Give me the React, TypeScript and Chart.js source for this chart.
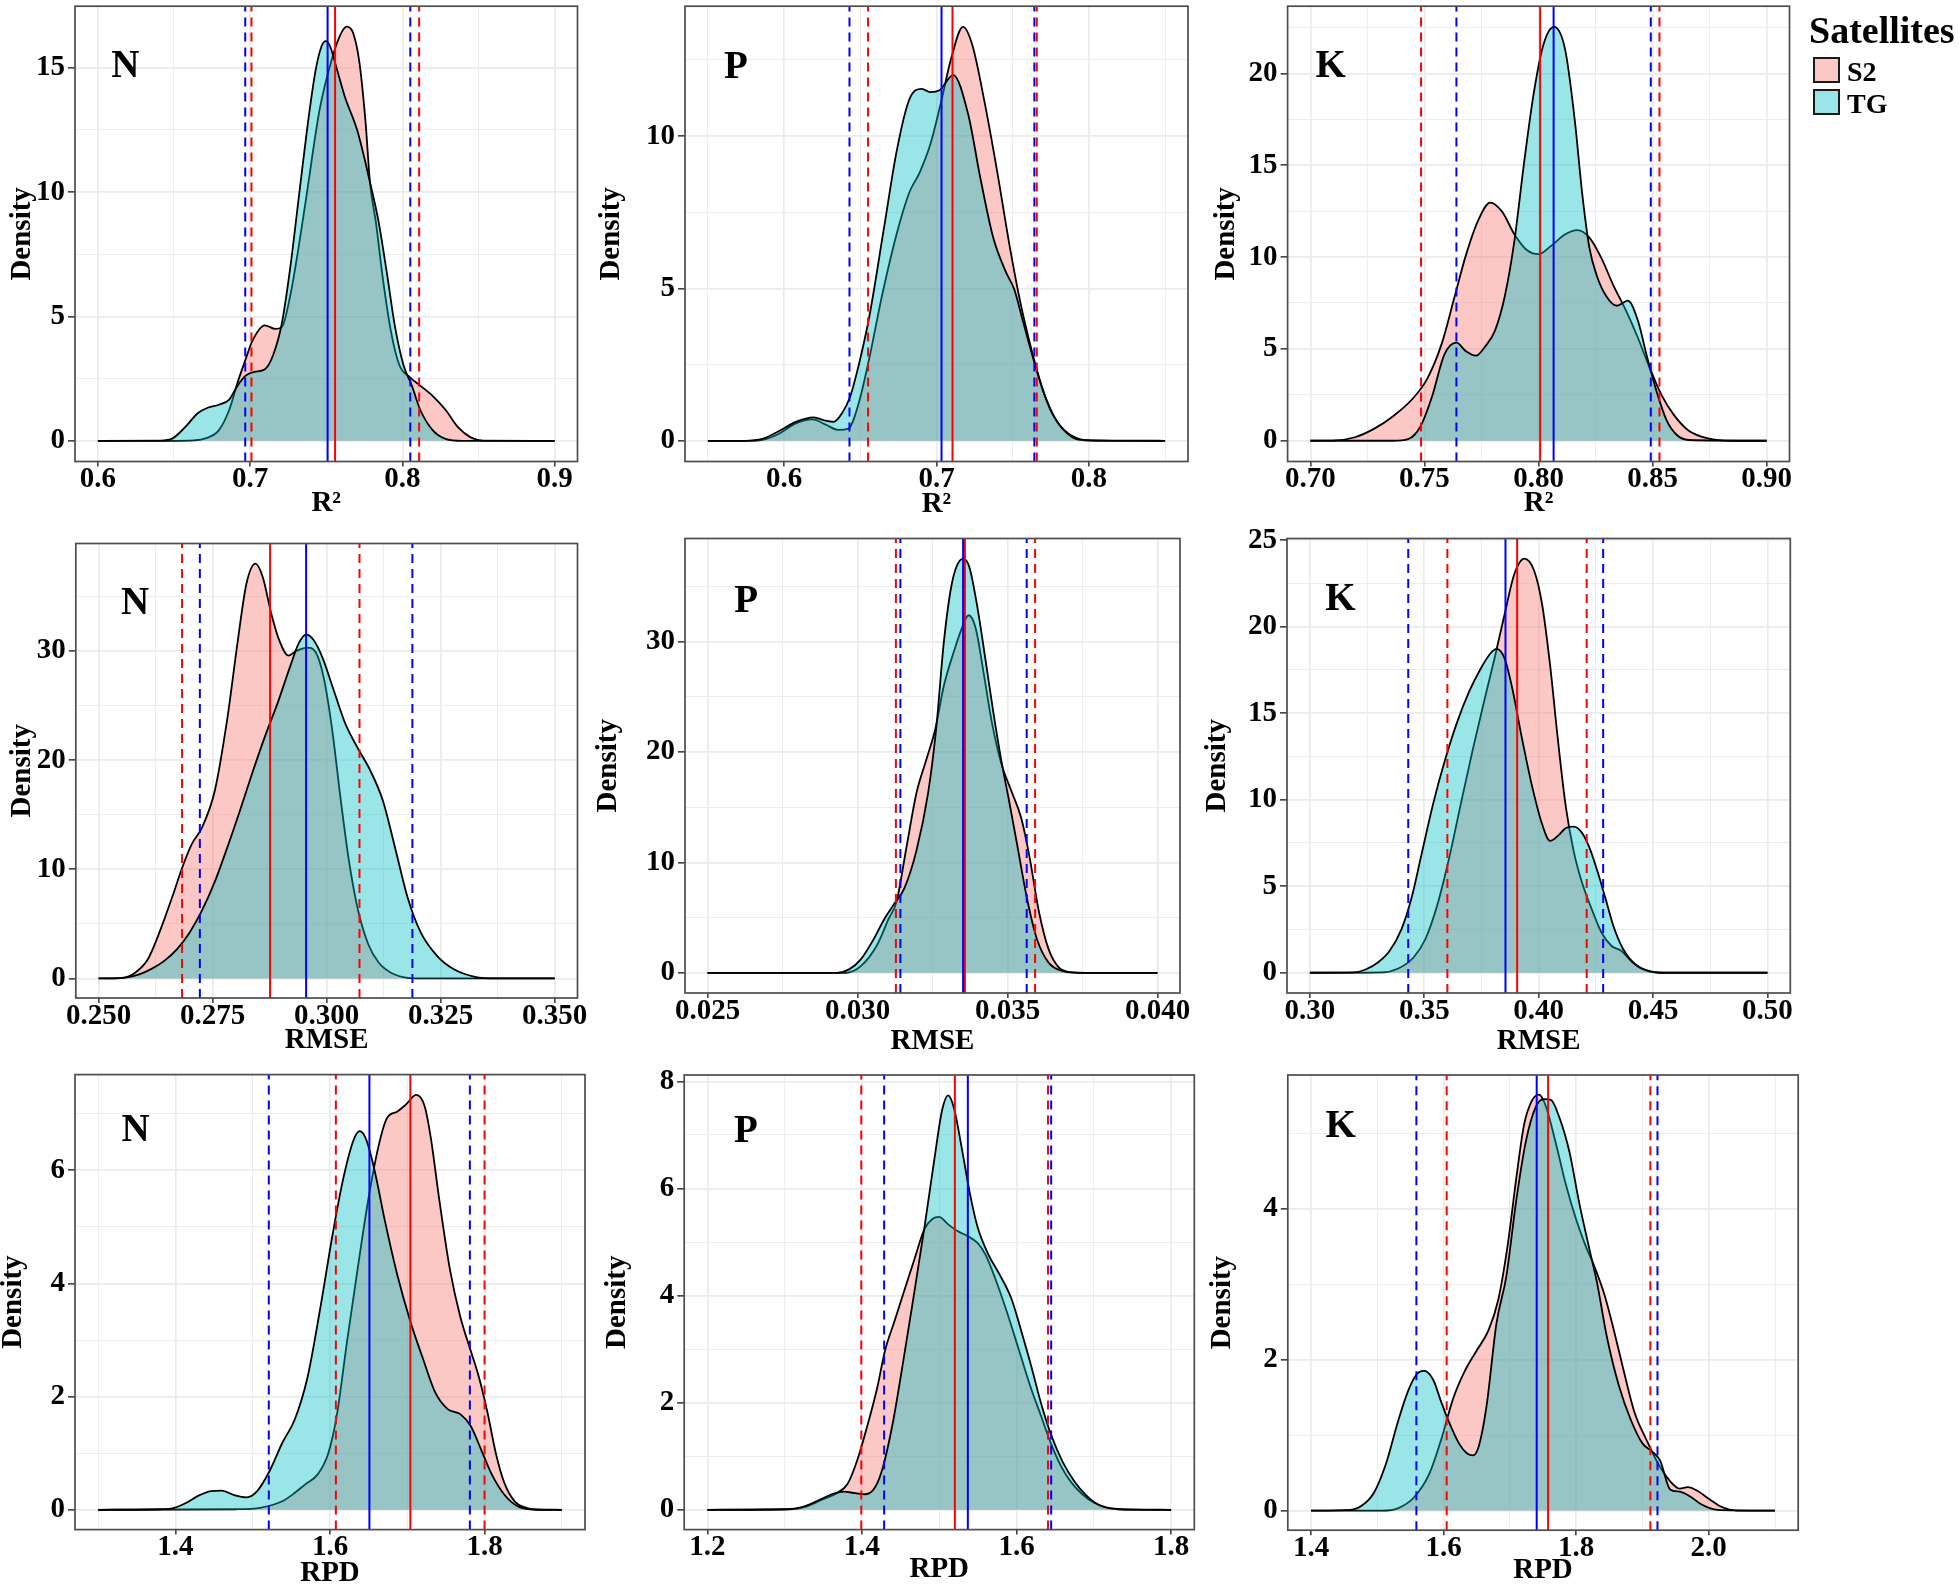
import React, { useEffect, useRef } from 'react';
import { Chart, registerables } from 'chart.js';
Chart.register(...registerables);

type Pt = [number, number];

// ---------------- N / R2 ----------------
const nR2_S2: Pt[] = [[0.6,0],[0.6463,0],[0.6629,0.02],[0.6711,0.11],[0.6794,0.42],[0.6863,1.25],[0.6918,2.35],[0.6973,3.32],[0.7015,4.02],[0.7097,4.64],[0.7166,4.5],[0.7208,4.57],[0.7263,5.82],[0.7318,7.76],[0.7373,9.97],[0.7456,13.3],[0.7538,15.37],[0.7594,16.34],[0.7635,16.65],[0.7676,16.4],[0.7718,15.2],[0.7759,12.74],[0.7787,10.4],[0.7828,8.7],[0.7869,6.65],[0.7924,4.43],[0.798,3.05],[0.8048,2.56],[0.8117,2.22],[0.82,1.8],[0.8283,1.25],[0.8365,0.55],[0.8448,0.14],[0.8531,0.01],[0.9,0]];
const nR2_TG: Pt[] = [[0.6,0],[0.6408,0.01],[0.6491,0.1],[0.6573,0.55],[0.6656,1.11],[0.6725,1.34],[0.6794,1.45],[0.6863,1.66],[0.6918,2.22],[0.6973,2.63],[0.7028,2.77],[0.7097,2.88],[0.7152,3.46],[0.7208,4.71],[0.7263,6.93],[0.7318,9.7],[0.7373,12.47],[0.7428,14.82],[0.7469,15.86],[0.7497,16.07],[0.7525,15.86],[0.7566,15.03],[0.7621,13.85],[0.7704,12.47],[0.7787,10.4],[0.7842,8.86],[0.7897,6.79],[0.7952,4.57],[0.8007,3.05],[0.8062,2.22],[0.8117,1.25],[0.82,0.42],[0.8283,0.08],[0.8393,0],[0.9,0]];
const nR2_linesS2 = [0.7009, 0.7558, 0.811];
const nR2_linesTG = [0.6968, 0.7509, 0.8052];

// ---------------- P / R2 ----------------
const pR2_S2: Pt[] = [[0.55,0],[0.5747,0],[0.5857,0.03],[0.5967,0.23],[0.6077,0.57],[0.6187,0.7],[0.627,0.54],[0.6353,0.36],[0.6422,0.4],[0.649,1.24],[0.6559,2.71],[0.6642,4.75],[0.6738,6.78],[0.6821,8.14],[0.689,8.81],[0.6959,9.72],[0.7028,11.07],[0.7096,12.54],[0.7174,13.58],[0.7234,13.0],[0.7317,11.07],[0.7399,8.81],[0.7482,6.33],[0.7551,4.52],[0.762,3.05],[0.7689,1.81],[0.7758,0.9],[0.784,0.34],[0.7923,0.08],[0.8033,0],[0.85,0]];
const pR2_TG: Pt[] = [[0.55,0],[0.5747,0],[0.5857,0.06],[0.5967,0.32],[0.6077,0.62],[0.6193,0.77],[0.627,0.66],[0.6325,0.62],[0.638,0.9],[0.6435,1.47],[0.649,2.49],[0.6559,4.07],[0.6656,7.0],[0.6738,9.49],[0.6821,11.19],[0.6904,11.55],[0.6959,11.44],[0.7019,11.5],[0.711,12.0],[0.7207,10.73],[0.7289,8.59],[0.7372,6.67],[0.7455,5.54],[0.751,4.97],[0.7565,3.96],[0.7634,2.71],[0.7703,1.58],[0.7785,0.68],[0.7868,0.2],[0.7951,0.03],[0.85,0]];
const pR2_linesS2 = [0.6551, 0.7105, 0.7658];
const pR2_linesTG = [0.6429, 0.7033, 0.7642];

// ---------------- K / R2 ----------------
const kR2_S2: Pt[] = [[0.7,0],[0.711,0.02],[0.7195,0.19],[0.728,0.66],[0.7364,1.35],[0.7449,2.3],[0.7513,3.4],[0.7576,5.3],[0.7629,7.7],[0.7682,10.12],[0.7735,11.99],[0.7788,12.97],[0.7841,12.46],[0.7894,11.24],[0.7947,10.4],[0.8,10.16],[0.8053,10.59],[0.8117,11.24],[0.817,11.47],[0.8223,11.06],[0.8276,9.93],[0.8329,8.43],[0.8382,7.12],[0.8435,5.62],[0.8488,3.94],[0.8541,2.44],[0.8593,1.41],[0.8657,0.56],[0.8742,0.13],[0.8848,0],[0.9,0]];
const kR2_TG: Pt[] = [[0.7,0],[0.7364,0],[0.7428,0.09],[0.7481,0.75],[0.7534,2.44],[0.7587,4.69],[0.764,5.34],[0.7682,4.87],[0.7725,4.63],[0.7767,5.15],[0.7809,6.0],[0.7852,7.87],[0.7894,10.87],[0.7937,15.18],[0.7979,18.93],[0.8021,21.55],[0.8068,22.53],[0.8117,21.27],[0.8159,17.43],[0.8191,13.5],[0.8223,10.5],[0.8255,9.0],[0.8297,7.87],[0.8343,7.35],[0.8392,7.63],[0.8435,6.56],[0.8477,4.5],[0.8519,2.62],[0.8561,1.12],[0.8604,0.34],[0.8657,0.04],[0.9,0]];
const kR2_linesS2 = [0.7485, 0.8007, 0.853];
const kR2_linesTG = [0.764, 0.8066, 0.8492];

// ---------------- N / RMSE ----------------
const nRMSE_S2: Pt[] = [[0.25,0],[0.2552,0.06],[0.258,0.53],[0.2608,1.76],[0.2635,4.4],[0.2663,7.65],[0.2683,10.12],[0.2704,12.29],[0.2727,13.84],[0.2755,17.24],[0.2782,23.75],[0.2805,30.87],[0.2824,36.13],[0.2844,37.99],[0.286,36.75],[0.2879,33.34],[0.2897,30.87],[0.2916,29.57],[0.2934,30.0],[0.2957,30.31],[0.2976,29.88],[0.2994,27.46],[0.3012,22.82],[0.3031,16.32],[0.3049,10.74],[0.3068,6.41],[0.3091,3.16],[0.3114,1.46],[0.3141,0.53],[0.3178,0.06],[0.3215,0],[0.35,0]];
const nRMSE_TG: Pt[] = [[0.25,0],[0.2534,0],[0.2562,0.09],[0.2589,0.37],[0.2617,0.9],[0.2644,1.61],[0.2672,2.69],[0.27,4.24],[0.2727,6.25],[0.2755,8.89],[0.2782,11.98],[0.281,15.39],[0.2838,18.95],[0.2865,22.2],[0.2893,25.29],[0.2921,28.7],[0.2939,30.71],[0.2955,31.49],[0.2971,31.02],[0.299,29.47],[0.3012,26.84],[0.304,23.44],[0.3068,21.11],[0.3095,19.1],[0.3123,16.32],[0.315,11.98],[0.3178,7.34],[0.3206,4.24],[0.3242,2.07],[0.3279,0.84],[0.3325,0.15],[0.3371,0],[0.35,0]];
const nRMSE_linesS2 = [0.2683, 0.2876, 0.3072];
const nRMSE_linesTG = [0.2722, 0.2955, 0.3188];

// ---------------- P / RMSE ----------------
const pRMSE_S2: Pt[] = [[0.025,0],[0.02959,0],[0.03011,0.61],[0.03064,2.45],[0.03104,4.9],[0.0313,6.43],[0.03163,11.33],[0.03196,16.22],[0.03229,19.28],[0.03259,22.04],[0.03288,26.02],[0.03321,29.08],[0.03348,31.22],[0.0337,32.39],[0.03394,31.22],[0.0342,27.24],[0.03446,22.96],[0.03479,18.98],[0.03512,16.53],[0.03545,14.08],[0.03572,10.71],[0.03605,5.51],[0.03637,2.14],[0.0367,0.52],[0.0371,0.06],[0.03763,0],[0.04,0]];
const pRMSE_TG: Pt[] = [[0.025,0],[0.02932,0],[0.02972,0.31],[0.03011,1.22],[0.03051,2.91],[0.0309,4.9],[0.03123,6.27],[0.03156,7.65],[0.03196,11.02],[0.03235,16.22],[0.03262,22.04],[0.03288,30.0],[0.03314,35.2],[0.03341,37.35],[0.03354,37.5],[0.03373,36.73],[0.034,33.06],[0.03426,28.47],[0.03453,23.57],[0.03479,19.28],[0.03505,15.61],[0.03532,11.63],[0.03565,6.73],[0.03598,3.06],[0.03637,0.92],[0.03684,0.15],[0.03736,0],[0.04,0]];
const pRMSE_linesS2 = [0.03128, 0.03358, 0.03592];
const pRMSE_linesTG = [0.03143, 0.03352, 0.03564];

// ---------------- K / RMSE ----------------
const kRMSE_S2: Pt[] = [[0.3,0],[0.3315,0.02],[0.3384,0.23],[0.3453,0.88],[0.3505,1.95],[0.3557,3.91],[0.3609,6.64],[0.366,9.77],[0.3712,12.89],[0.3764,15.82],[0.3807,18.16],[0.3851,20.7],[0.3894,23.05],[0.3937,23.93],[0.398,23.24],[0.4015,21.29],[0.405,17.77],[0.4084,13.48],[0.4119,9.57],[0.4153,7.03],[0.4188,5.27],[0.4231,3.71],[0.4274,2.34],[0.4318,1.56],[0.4361,1.27],[0.4404,0.68],[0.4456,0.2],[0.4525,0],[0.5,0]];
const kRMSE_TG: Pt[] = [[0.3,0],[0.3194,0.02],[0.3246,0.2],[0.3297,0.59],[0.3349,1.27],[0.3401,2.54],[0.3444,4.3],[0.3488,6.84],[0.3539,9.77],[0.3591,12.3],[0.3643,14.45],[0.3695,16.21],[0.3747,17.58],[0.379,18.46],[0.3816,18.71],[0.3851,18.16],[0.3885,16.41],[0.3928,13.48],[0.3972,10.74],[0.4015,8.59],[0.405,7.62],[0.4084,7.91],[0.4119,8.36],[0.4153,8.44],[0.4188,8.11],[0.4222,7.23],[0.4257,5.86],[0.4292,4.3],[0.4326,2.73],[0.4369,1.37],[0.4421,0.49],[0.4473,0.14],[0.4542,0],[0.5,0]];
const kRMSE_linesS2 = [0.3601, 0.3906, 0.421];
const kRMSE_linesTG = [0.343, 0.3855, 0.4282];

// ---------------- N / RPD ----------------
const nRPD_S2: Pt[] = [[1.3,0],[1.4786,0.01],[1.5111,0.04],[1.5382,0.15],[1.5545,0.3],[1.568,0.45],[1.5843,0.63],[1.5978,1.0],[1.6087,1.66],[1.6222,2.99],[1.6358,4.26],[1.6494,5.47],[1.6629,6.43],[1.6737,6.92],[1.6873,7.04],[1.6981,7.16],[1.7117,7.33],[1.7225,7.13],[1.7306,6.56],[1.7415,5.47],[1.755,4.26],[1.7686,3.41],[1.7821,2.81],[1.793,2.33],[1.8038,1.72],[1.8146,1.0],[1.8255,0.48],[1.839,0.15],[1.8553,0.03],[1.8742,0],[1.9,0]];
const nRPD_TG: Pt[] = [[1.3,0],[1.381,0.01],[1.3973,0.03],[1.4136,0.12],[1.4298,0.25],[1.4461,0.33],[1.4596,0.34],[1.4759,0.26],[1.4921,0.22],[1.5057,0.33],[1.522,0.69],[1.5382,1.18],[1.5545,1.6],[1.5707,2.33],[1.587,3.53],[1.6033,4.86],[1.6168,5.83],[1.6304,6.53],[1.6385,6.69],[1.6466,6.55],[1.6575,6.01],[1.671,5.11],[1.6873,4.14],[1.7035,3.35],[1.7198,2.69],[1.736,2.08],[1.7523,1.78],[1.7686,1.69],[1.7821,1.48],[1.7957,1.06],[1.8092,0.63],[1.8255,0.27],[1.8417,0.07],[1.858,0.01],[1.9,0]];
const nRPD_linesS2 = [1.6076, 1.704, 1.8];
const nRPD_linesTG = [1.5208, 1.651, 1.781];

// ---------------- P / RPD ----------------
const pRPD_S2: Pt[] = [[1.2,0],[1.3072,0.01],[1.3277,0.06],[1.3481,0.19],[1.3685,0.32],[1.3813,0.48],[1.394,0.93],[1.4068,1.56],[1.4196,2.27],[1.4298,2.97],[1.4425,3.54],[1.4553,4.12],[1.4681,4.69],[1.4808,5.24],[1.491,5.43],[1.4997,5.47],[1.5115,5.33],[1.5242,5.2],[1.537,5.11],[1.5498,4.98],[1.56,4.76],[1.5727,4.31],[1.5881,3.67],[1.6034,2.97],[1.6187,2.27],[1.6315,1.76],[1.6442,1.25],[1.657,0.83],[1.6698,0.53],[1.6851,0.29],[1.7004,0.13],[1.7208,0.03],[1.7412,0],[1.8,0]];
const pRPD_TG: Pt[] = [[1.2,0],[1.3021,0.01],[1.3225,0.05],[1.343,0.17],[1.3608,0.29],[1.3762,0.34],[1.3915,0.31],[1.4042,0.29],[1.417,0.42],[1.4272,0.8],[1.44,1.63],[1.4527,2.71],[1.4655,3.86],[1.4808,5.27],[1.4936,6.54],[1.5038,7.47],[1.5115,7.74],[1.5191,7.5],[1.5293,6.74],[1.5396,5.91],[1.5498,5.27],[1.5625,4.8],[1.5778,4.4],[1.5932,3.95],[1.6059,3.35],[1.6187,2.7],[1.6315,2.0],[1.6442,1.42],[1.6595,0.9],[1.6749,0.53],[1.6902,0.27],[1.7055,0.1],[1.7259,0.02],[1.8,0]];
const pRPD_linesS2 = [1.3991, 1.5202, 1.6407];
const pRPD_linesTG = [1.4287, 1.537, 1.6448];

// ---------------- K / RPD ----------------
const kRPD_S2: Pt[] = [[1.4,0],[1.5071,0],[1.5309,0.03],[1.5548,0.17],[1.5786,0.49],[1.5964,0.94],[1.6143,1.48],[1.6321,1.85],[1.65,2.12],[1.6679,2.39],[1.6827,2.8],[1.6976,3.57],[1.7095,4.39],[1.7214,5.11],[1.7333,5.43],[1.744,5.51],[1.7542,5.36],[1.769,4.88],[1.7839,4.34],[1.7988,3.89],[1.8137,3.52],[1.8286,3.21],[1.8434,2.84],[1.8583,2.34],[1.8732,1.8],[1.8881,1.3],[1.9059,0.94],[1.9238,0.62],[1.9417,0.39],[1.9565,0.29],[1.9684,0.31],[1.9833,0.26],[2.0012,0.15],[2.019,0.05],[2.0429,0],[2.1,0]];
const kRPD_TG: Pt[] = [[1.4,0],[1.4595,0.01],[1.4774,0.07],[1.4952,0.24],[1.5131,0.62],[1.5309,1.17],[1.5458,1.57],[1.5589,1.8],[1.5708,1.85],[1.5845,1.73],[1.5964,1.44],[1.6083,1.17],[1.6232,0.89],[1.6351,0.76],[1.644,0.73],[1.653,0.85],[1.6649,1.39],[1.6798,2.48],[1.6946,3.1],[1.7095,4.1],[1.7244,4.9],[1.7393,5.35],[1.7512,5.45],[1.7619,5.44],[1.775,5.2],[1.7899,4.75],[1.8048,4.07],[1.8196,3.48],[1.8315,3.02],[1.8464,2.3],[1.8643,1.66],[1.8821,1.21],[1.9,0.89],[1.9149,0.78],[1.9268,0.66],[1.9417,0.28],[1.9565,0.25],[1.9714,0.19],[1.9893,0.08],[2.0131,0.01],[2.1,0]];
const kRPD_linesS2 = [1.6047, 1.7577, 1.912];
const kRPD_linesTG = [1.559, 1.7405, 1.9227];

// ---------------- tick values & labels ----------------
const r2N_xTicks = [0.6, 0.7, 0.8, 0.9];
const r2N_xLabels = ['0.6', '0.7', '0.8', '0.9'];
const r2P_xTicks = [0.6, 0.7, 0.8];
const r2P_xLabels = ['0.6', '0.7', '0.8'];
const r2K_xTicks = [0.7, 0.75, 0.8, 0.85, 0.9];
const r2K_xLabels = ['0.70', '0.75', '0.80', '0.85', '0.90'];
const rmseN_xTicks = [0.25, 0.275, 0.3, 0.325, 0.35];
const rmseN_xLabels = ['0.250', '0.275', '0.300', '0.325', '0.350'];
const rmseP_xTicks = [0.025, 0.03, 0.035, 0.04];
const rmseP_xLabels = ['0.025', '0.030', '0.035', '0.040'];
const rmseK_xTicks = [0.3, 0.35, 0.4, 0.45, 0.5];
const rmseK_xLabels = ['0.30', '0.35', '0.40', '0.45', '0.50'];
const rpdN_xTicks = [1.4, 1.6, 1.8];
const rpdN_xLabels = ['1.4', '1.6', '1.8'];
const rpdP_xTicks = [1.2, 1.4, 1.6, 1.8];
const rpdP_xLabels = ['1.2', '1.4', '1.6', '1.8'];
const rpdK_xTicks = [1.4, 1.6, 1.8, 2.0];
const rpdK_xLabels = ['1.4', '1.6', '1.8', '2.0'];

const yTicks_0_15 = [0, 5, 10, 15];
const yTicks_0_10 = [0, 5, 10];
const yTicks_0_20 = [0, 5, 10, 15, 20];
const yTicks_0_30 = [0, 10, 20, 30];
const yTicks_0_25 = [0, 5, 10, 15, 20, 25];
const yTicks_0_6 = [0, 2, 4, 6];
const yTicks_0_8 = [0, 2, 4, 6, 8];
const yTicks_0_4 = [0, 2, 4];

const legendTitle = 'Satellites';
const seriesNames = ['S2', 'TG'];

// ---------------- styling ----------------
const FONT = '"Liberation Serif", "Times New Roman", Times, serif';
const S2_FILL = 'rgba(248,118,109,0.4)';
const TG_FILL = 'rgba(0,191,196,0.4)';
const S2_KEY = '#FCC8C5';
const TG_KEY = '#99E5E7';

interface PanelCfg {
  letter: string; lx: number; ly: number;
  s2: Pt[]; tg: Pt[]; lS2: number[]; lTG: number[];
  xMin: number; xMax: number; yMin: number; yMax: number;
  xTicks: number[]; xLabels: string[]; yTicks: number[];
  xTitle: string;
  L: number; R: number; T: number; B: number; wy: number; hx: number;
}

const panels: PanelCfg[] = [
  { letter: 'N', lx: 0.618, ly: 15.13, s2: nR2_S2, tg: nR2_TG, lS2: nR2_linesS2, lTG: nR2_linesTG,
    xMin: 0.585, xMax: 0.915, yMin: -0.83, yMax: 17.47, xTicks: r2N_xTicks, xLabels: r2N_xLabels, yTicks: yTicks_0_15, xTitle: 'R²',
    L: 75, R: 577.5, T: 6.2, B: 461.5, wy: 70, hx: 59 },
  { letter: 'P', lx: 0.5684, ly: 12.34, s2: pR2_S2, tg: pR2_TG, lS2: pR2_linesS2, lTG: pR2_linesTG,
    xMin: 0.535, xMax: 0.865, yMin: -0.68, yMax: 14.26, xTicks: r2P_xTicks, xLabels: r2P_xLabels, yTicks: yTicks_0_10, xTitle: 'R²',
    L: 685, R: 1188, T: 6.2, B: 461.5, wy: 90.5, hx: 60.5 },
  { letter: 'K', lx: 0.7089, ly: 20.5, s2: kR2_S2, tg: kR2_TG, lS2: kR2_linesS2, lTG: kR2_linesTG,
    xMin: 0.69, xMax: 0.91, yMin: -1.13, yMax: 23.66, xTicks: r2K_xTicks, xLabels: r2K_xLabels, yTicks: yTicks_0_20, xTitle: 'R²',
    L: 1287.6, R: 1789.5, T: 6.2, B: 461.5, wy: 78.6, hx: 59 },
  { letter: 'N', lx: 0.258, ly: 34.57, s2: nRMSE_S2, tg: nRMSE_TG, lS2: nRMSE_linesS2, lTG: nRMSE_linesTG,
    xMin: 0.245, xMax: 0.355, yMin: -1.79, yMax: 39.84, xTicks: rmseN_xTicks, xLabels: rmseN_xLabels, yTicks: yTicks_0_30, xTitle: 'RMSE',
    L: 75.8, R: 577.5, T: 543.5, B: 998, wy: 70.8, hx: 59.5 },
  { letter: 'P', lx: 0.02629, ly: 33.86, s2: pRMSE_S2, tg: pRMSE_TG, lS2: pRMSE_linesS2, lTG: pRMSE_linesTG,
    xMin: 0.02425, xMax: 0.04075, yMin: -1.83, yMax: 39.34, xTicks: rmseP_xTicks, xLabels: rmseP_xLabels, yTicks: yTicks_0_30, xTitle: 'RMSE',
    L: 685, R: 1180, T: 538.5, B: 993, wy: 94, hx: 65.5 },
  { letter: 'K', lx: 0.3133, ly: 21.73, s2: kRMSE_S2, tg: kRMSE_TG, lS2: kRMSE_linesS2, lTG: kRMSE_linesTG,
    xMin: 0.29, xMax: 0.51, yMin: -1.17, yMax: 25.09, xTicks: rmseK_xTicks, xLabels: rmseK_xLabels, yTicks: yTicks_0_25, xTitle: 'RMSE',
    L: 1287, R: 1790.3, T: 538.5, B: 993, wy: 87, hx: 65.5 },
  { letter: 'N', lx: 1.3484, ly: 6.75, s2: nRPD_S2, tg: nRPD_TG, lS2: nRPD_linesS2, lTG: nRPD_linesTG,
    xMin: 1.27, xMax: 1.93, yMin: -0.35, yMax: 7.69, xTicks: rpdN_xTicks, xLabels: rpdN_xLabels, yTicks: yTicks_0_6, xTitle: 'RPD',
    L: 75, R: 585, T: 1074.6, B: 1529.6, wy: 78.3, hx: 60.9 },
  { letter: 'P', lx: 1.2497, ly: 7.12, s2: pRPD_S2, tg: pRPD_TG, lS2: pRPD_linesS2, lTG: pRPD_linesTG,
    xMin: 1.17, xMax: 1.83, yMin: -0.37, yMax: 8.12, xTicks: rpdP_xTicks, xLabels: rpdP_xLabels, yTicks: yTicks_0_8, xTitle: 'RPD',
    L: 684.2, R: 1194.3, T: 1075, B: 1529.6, wy: 84.2, hx: 57.4 },
  { letter: 'K', lx: 1.4447, ly: 5.12, s2: kRPD_S2, tg: kRPD_TG, lS2: kRPD_linesS2, lTG: kRPD_linesTG,
    xMin: 1.365, xMax: 2.135, yMin: -0.26, yMax: 5.77, xTicks: rpdK_xTicks, xLabels: rpdK_xLabels, yTicks: yTicks_0_4, xTitle: 'RPD',
    L: 1287.8, R: 1798.2, T: 1075, B: 1530.2, wy: 82.8, hx: 57.3 },
];

function withMinor(major: number[], lo: number, hi: number): number[] {
  const step = major[1] - major[0];
  const out: number[] = [];
  out.push(major[0] - step / 2);
  major.forEach((m) => { out.push(m); out.push(m + step / 2); });
  return out.filter((v) => v >= lo - 1e-12 && v <= hi + 1e-12).sort((a, b) => a - b);
}

function isMajor(list: number[], v: number) {
  return list.some((m) => Math.abs(m - v) < 1e-9);
}

function Panel({ cfg }: { cfg: PanelCfg }) {
  const ref = useRef<HTMLCanvasElement>(null);
  const PAD_T = 22;
  const PAD_R = 32;
  const cLeft = Math.floor(cfg.L - cfg.wy);
  const cTop = Math.floor(cfg.T - PAD_T);
  const wy = cfg.L - cLeft;
  const padTop = cfg.T - cTop;
  const plotW = cfg.R - cfg.L;
  const plotH = cfg.B - cfg.T;
  const cW = Math.ceil(wy + plotW + PAD_R);
  const padRight = cW - wy - plotW;
  const cH = Math.ceil(padTop + plotH + cfg.hx);
  const hx = cH - padTop - plotH;

  useEffect(() => {
    const canvas = ref.current;
    if (!canvas) return;
    const xT = withMinor(cfg.xTicks, cfg.xMin, cfg.xMax);
    const yT = withMinor(cfg.yTicks, cfg.yMin, cfg.yMax);

    const vline = (v: number, color: string, dashed: boolean, order: number) => ({
      type: 'line' as const,
      data: [{ x: v, y: cfg.yMin }, { x: v, y: cfg.yMax }],
      borderColor: color,
      borderWidth: 2,
      borderDash: dashed ? [9, 6] : [],
      pointRadius: 0,
      fill: false,
      tension: 0,
      order,
    });

    const datasets: any[] = [
      { type: 'line', label: seriesNames[0], data: cfg.s2.map(([x, y]) => ({ x, y })), borderColor: '#000', borderWidth: 1.8,
        backgroundColor: S2_FILL, fill: 'origin', pointRadius: 0, cubicInterpolationMode: 'monotone', order: 3 },
      { type: 'line', label: seriesNames[1], data: cfg.tg.map(([x, y]) => ({ x, y })), borderColor: '#000', borderWidth: 1.8,
        backgroundColor: TG_FILL, fill: 'origin', pointRadius: 0, cubicInterpolationMode: 'monotone', order: 2 },
      ...cfg.lS2.map((v, i) => vline(v, '#FF0000', i !== 1, 1)),
      ...cfg.lTG.map((v, i) => vline(v, '#0000FF', i !== 1, 0)),
    ];

    const decor = {
      id: 'decor',
      afterDatasetsDraw(chart: any) {
        const { ctx, scales } = chart;
        ctx.save();
        ctx.font = `bold 39px ${FONT}`;
        ctx.fillStyle = '#000';
        ctx.textAlign = 'center';
        ctx.textBaseline = 'alphabetic';
        ctx.fillText(cfg.letter, scales.x.getPixelForValue(cfg.lx), scales.y.getPixelForValue(cfg.ly) + 13);
        ctx.restore();
      },
      afterDraw(chart: any) {
        const { ctx, chartArea: a } = chart;
        ctx.save();
        ctx.strokeStyle = '#4d4d4d';
        ctx.lineWidth = 1.7;
        ctx.strokeRect(a.left, a.top, a.right - a.left, a.bottom - a.top);
        ctx.restore();
      },
    };

    const tickFont = { family: FONT, size: 29, weight: 'bold' as const, lineHeight: 0.9 };
    const titleFont = { family: FONT, size: 29, weight: 'bold' as const };

    const chart = new Chart(canvas, {
      type: 'line',
      data: { datasets },
      plugins: [decor],
      options: {
        animation: false,
        responsive: false,
        devicePixelRatio: 1,
        events: [],
        layout: { autoPadding: false, padding: { top: padTop, right: padRight, left: 0, bottom: 0 } },
        plugins: { legend: { display: false }, tooltip: { enabled: false } },
        scales: {
          x: {
            type: 'linear',
            min: cfg.xMin,
            max: cfg.xMax,
            afterBuildTicks: (s: any) => { s.ticks = xT.map((v) => ({ value: v })); },
            afterFit: (s: any) => { s.height = hx; s.paddingLeft = 0; s.paddingRight = 0; s.paddingTop = 0; s.paddingBottom = 0; },
            ticks: {
              autoSkip: false, maxRotation: 0, minRotation: 0, padding: 0, color: '#000', font: tickFont,
              callback: (v: any) => { const i = cfg.xTicks.findIndex((m) => Math.abs(m - v) < 1e-9); return i >= 0 ? cfg.xLabels[i] : ''; },
            },
            grid: {
              color: '#EBEBEB',
              lineWidth: (c: any) => (c.tick && isMajor(cfg.xTicks, c.tick.value) ? 1.7 : 0.9),
              tickLength: 5,
              tickWidth: 1.5,
              tickColor: (c: any) => (c.tick && isMajor(cfg.xTicks, c.tick.value) ? '#333333' : 'rgba(0,0,0,0)'),
            },
            border: { display: false },
            title: { display: true, text: cfg.xTitle, color: '#000', font: titleFont, padding: 0 },
          },
          y: {
            type: 'linear',
            position: 'left',
            min: cfg.yMin,
            max: cfg.yMax,
            afterBuildTicks: (s: any) => { s.ticks = yT.map((v) => ({ value: v })); },
            afterFit: (s: any) => { s.width = wy; s.paddingLeft = 0; s.paddingRight = 0; s.paddingTop = 0; s.paddingBottom = 0; },
            ticks: {
              autoSkip: false, padding: 3, color: '#000', font: tickFont,
              callback: (v: any) => (isMajor(cfg.yTicks, v) ? String(Math.round(v)) : ''),
            },
            grid: {
              color: '#EBEBEB',
              lineWidth: (c: any) => (c.tick && isMajor(cfg.yTicks, c.tick.value) ? 1.7 : 0.9),
              tickLength: 7,
              tickWidth: 1.5,
              tickColor: (c: any) => (c.tick && isMajor(cfg.yTicks, c.tick.value) ? '#333333' : 'rgba(0,0,0,0)'),
            },
            border: { display: false },
            title: { display: true, text: 'Density', color: '#000', font: titleFont, padding: 0 },
          },
        },
      } as any,
    });
    return () => chart.destroy();
  }, []);

  return (
    <canvas
      ref={ref}
      width={cW}
      height={cH}
      style={{ position: 'absolute', left: cLeft, top: cTop, width: cW, height: cH, display: 'block' }}
    />
  );
}

export default function App() {
  const serif: React.CSSProperties = { position: 'absolute', fontFamily: FONT, fontWeight: 'bold', color: '#000', whiteSpace: 'nowrap' };
  return (
    <div style={{ position: 'absolute', left: 0, top: 0, width: 1959, height: 1586, overflow: 'hidden', background: '#fff' }}>
      {panels.map((p, i) => (
        <Panel key={i} cfg={p} />
      ))}
      <div style={{ ...serif, left: 1809, top: 11, fontSize: 38, lineHeight: '38px' }}>{legendTitle}</div>
      <div style={{ position: 'absolute', left: 1813, top: 57, width: 27, height: 26, boxSizing: 'border-box', border: '2px solid #1a1a1a', background: S2_KEY }} />
      <div style={{ position: 'absolute', left: 1813, top: 89, width: 27, height: 26, boxSizing: 'border-box', border: '2px solid #1a1a1a', background: TG_KEY }} />
      <div style={{ ...serif, left: 1847, top: 57.5, fontSize: 28, lineHeight: '28px' }}>{seriesNames[0]}</div>
      <div style={{ ...serif, left: 1847, top: 89.5, fontSize: 28, lineHeight: '28px' }}>{seriesNames[1]}</div>
    </div>
  );
}
